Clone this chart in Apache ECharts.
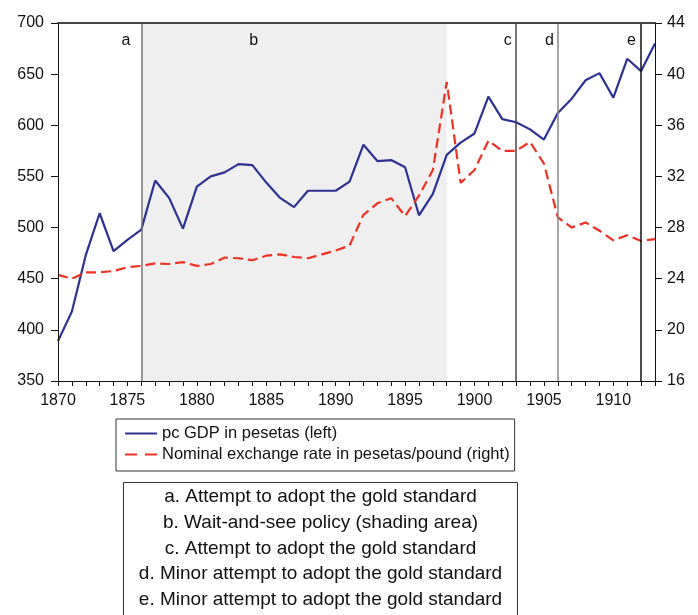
<!DOCTYPE html>
<html lang="en">

<head>
  <meta charset="UTF-8">
  <title>GDP and exchange rate</title>
  <script src="https://cdn.jsdelivr.net/npm/echarts@6/dist/echarts.min.js"></script>
  <style>
    html,
    body {
      margin: 0;
      padding: 0;
      width: 100%;
      height: 100%;
      background: #fff;
    }

    #chart {
      width: 698px;
      height: 615px;
    }
  </style>
</head>

<body>
  <div id="chart"></div>

  <script>
    // years 1870..1913
    const years = [];
    for (let y = 1870; y <= 1913; y++) years.push(String(y));

    // pc GDP in pesetas (left axis)
    const gdp = [389, 418, 473, 514, 477, 488, 498, 546, 529, 499,
      540, 550, 554, 562, 561, 544, 529, 520, 536, 536,
      536, 545, 581, 565, 566, 559, 512, 533, 571, 583,
      592, 628, 606, 603, 596, 586, 612, 626, 644, 651,
      627, 665, 653, 680];

    // nominal exchange rate in pesetas/pound (right axis)
    const fx = [24.3, 24.0, 24.5, 24.5, 24.6, 24.9, 25.0, 25.2, 25.15, 25.3,
      25.0, 25.15, 25.65, 25.6, 25.45, 25.8, 25.9, 25.7, 25.6, 25.9,
      26.2, 26.6, 29.0, 29.9, 30.3, 28.9, 30.5, 32.5, 39.4, 31.5,
      32.5, 34.8, 34.0, 34.0, 34.7, 33.0, 28.8, 28.0, 28.4, 27.75,
      27.0, 27.4, 26.95, 27.1];

    // policy periods
    const shadeFrom = 1876, shadeTo = 1898;
    const eventYears = [1876, 1903, 1906, 1912];
    const eventColors = ['#777', '#444', '#888', '#111'];
    const eventLetters = ['a', 'b', 'c', 'd', 'e'];
    const letterYears = [1874.9, 1884.1, 1902.4, 1905.4, 1911.3];

    const notes = [
      'a. Attempt to adopt the gold standard',
      'b. Wait-and-see policy (shading area)',
      'c. Attempt to adopt the gold standard',
      'd. Minor attempt to adopt the gold standard',
      'e. Minor attempt to adopt the gold standard'
    ];

    const FONT = "'Liberation Sans', Arial, sans-serif";
    const chart = echarts.init(document.getElementById('chart'), null, { renderer: 'canvas' });

    const option = {
      animation: false,
      backgroundColor: '#fff',
      textStyle: { fontFamily: FONT },
      grid: { left: 58, right: 43, top: 23, bottom: 234 },
      legend: {
        data: [
          { name: 'pc GDP in pesetas (left)' },
          { name: 'Nominal exchange rate in pesetas/pound (right)', lineStyle: { type: [12, 8] } }
        ],
        orient: 'vertical',
        left: 116,
        top: 419,
        itemWidth: 32,
        itemHeight: 10,
        itemGap: 4,
        padding: [6, 5, 8, 8],
        borderColor: '#333',
        borderWidth: 1,
        itemStyle: { opacity: 0 },
        textStyle: { fontSize: 16.5, color: '#111', fontFamily: FONT }
      },
      xAxis: [{
        type: 'category',
        data: years,
        boundaryGap: false,
        z: 10,
        axisLine: { lineStyle: { color: '#111', width: 1 } },
        axisTick: { inside: false, length: 5, interval: 0, lineStyle: { color: '#111' } },
        axisLabel: { interval: 4, color: '#111', fontSize: 16, margin: 12 },
        splitLine: { show: false }
      }, {
        type: 'value',
        min: 1870,
        max: 1913,
        position: 'top',
        z: 10,
        axisLine: { show: true, onZero: false, lineStyle: { color: '#444', width: 2 } },
        axisTick: { show: false },
        axisLabel: { show: false },
        splitLine: { show: false }
      }],
      yAxis: [{
        type: 'value',
        min: 350,
        max: 700,
        interval: 50,
        position: 'left',
        z: 10,
        axisLine: { show: true, lineStyle: { color: '#111' } },
        axisTick: { show: true, length: 7, lineStyle: { color: '#111' } },
        axisLabel: { color: '#111', fontSize: 16, margin: 14 },
        splitLine: { show: false }
      }, {
        type: 'value',
        min: 16,
        max: 44,
        interval: 4,
        position: 'right',
        z: 10,
        axisLine: { show: true, lineStyle: { color: '#111' } },
        axisTick: { show: true, length: 7, lineStyle: { color: '#111' } },
        axisLabel: { color: '#111', fontSize: 16, margin: 12 },
        splitLine: { show: false }
      }],
      series: [{
        // shading, event lines and letters
        name: 'periods',
        type: 'line',
        xAxisIndex: 1,
        yAxisIndex: 0,
        z: 1,
        symbol: 'none',
        lineStyle: { opacity: 0 },
        data: [[1870, 350], [1913, 350]],
        markArea: {
          silent: true,
          itemStyle: { color: '#efefef' },
          data: [[{ xAxis: shadeFrom }, { xAxis: shadeTo }]]
        },
        markLine: {
          silent: true,
          symbol: 'none',
          label: { show: false },
          data: eventYears.map((y, i) => ({
            xAxis: y,
            lineStyle: { color: eventColors[i], width: 1.5, type: 'solid' }
          }))
        },
        markPoint: {
          silent: true,
          symbol: 'circle',
          symbolSize: 1,
          itemStyle: { color: 'rgba(0,0,0,0)' },
          label: { show: true, position: 'inside', color: '#111', fontSize: 16, fontFamily: FONT },
          data: eventLetters.map((l, i) => ({
            coord: [letterYears[i], 683],
            value: l,
            label: { formatter: l }
          }))
        }
      }, {
        name: 'pc GDP in pesetas (left)',
        type: 'line',
        xAxisIndex: 0,
        yAxisIndex: 0,
        z: 3,
        symbol: 'none',
        data: gdp,
        itemStyle: { color: '#2e3192' },
        lineStyle: { color: '#2e3192', width: 2.2 }
      }, {
        name: 'Nominal exchange rate in pesetas/pound (right)',
        type: 'line',
        xAxisIndex: 0,
        yAxisIndex: 1,
        z: 3,
        symbol: 'none',
        data: fx,
        itemStyle: { color: '#ee3124' },
        lineStyle: { color: '#ee3124', width: 2.2, type: [10, 5] }
      }],
      graphic: [{
        type: 'group',
        left: 123,
        top: 482,
        children: [{
          type: 'rect',
          shape: { x: 0, y: 0, width: 394, height: 140 },
          style: { fill: '#fff', stroke: '#333', lineWidth: 1 }
        }].concat(notes.map((t, i) => ({
          type: 'text',
          x: 197,
          y: 5 + i * 25.7,
          style: {
            text: t,
            fill: '#111',
            font: '19px ' + FONT,
            align: 'center',
            verticalAlign: 'top'
          }
        })))
      }]
    };

    chart.setOption(option);
  </script>
</body>

</html>
